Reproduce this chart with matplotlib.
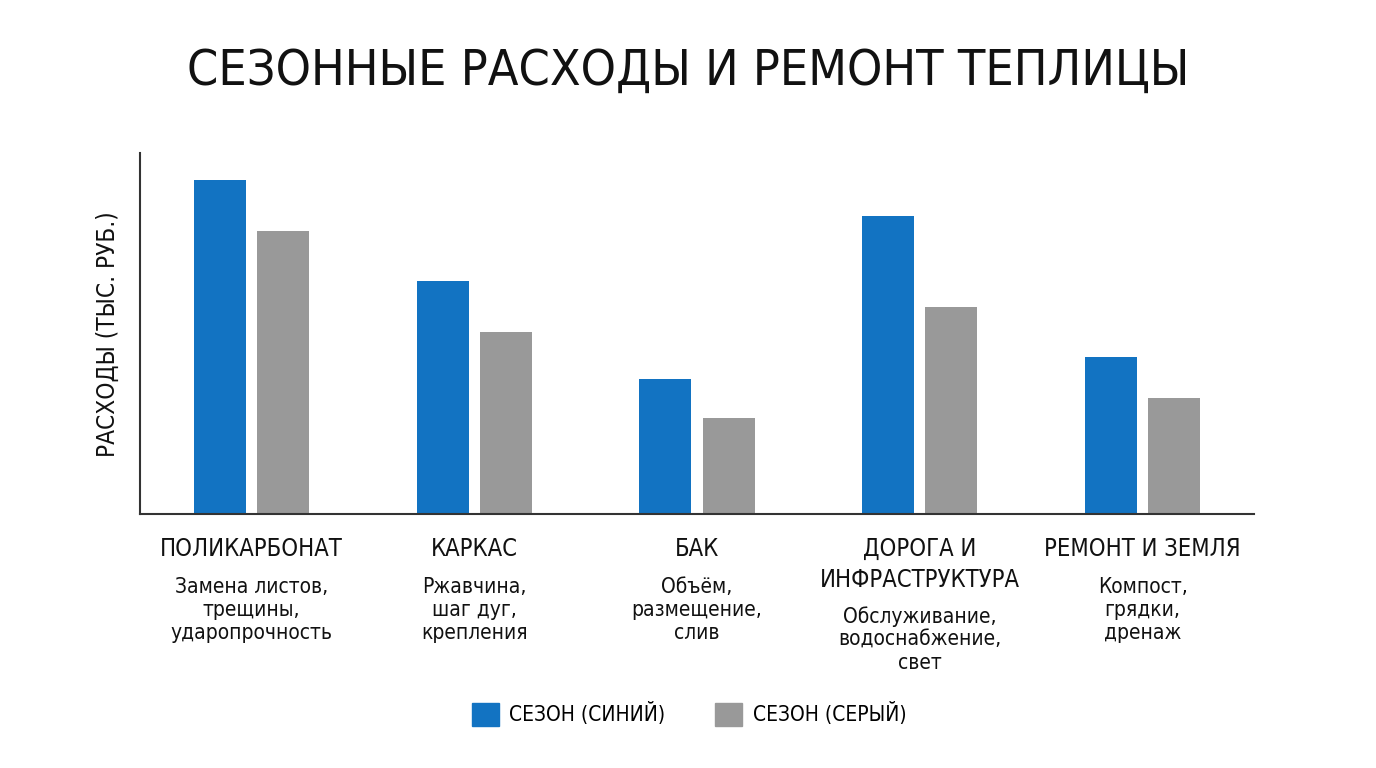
import matplotlib
matplotlib.use("Agg")
import matplotlib.pyplot as plt
from matplotlib import font_manager
from matplotlib.patches import Patch
from matplotlib.transforms import blended_transform_factory
import numpy as np

# ── data ──────────────────────────────────────────────────────────────────────

categories = ["ПОЛИКАРБОНАТ", "КАРКАС", "БАК", "ДОРОГА И\nИНФРАСТРУКТУРА", "РЕМОНТ И ЗЕМЛЯ"]
details = [
    "Замена листов,\nтрещины,\nударопрочность",
    "Ржавчина,\nшаг дуг,\nкрепления",
    "Объём,\nразмещение,\nслив",
    "Обслуживание,\nводоснабжение,\nсвет",
    "Компост,\nгрядки,\nдренаж",
]
blue_vals = [37.0, 25.8, 15.0, 33.0, 17.4]
gray_vals = [31.4, 20.2, 10.6, 22.9, 12.9]
series_names = ["СЕЗОН (СИНИЙ)", "СЕЗОН (СЕРЫЙ)"]

BLUE = "#1273C2"
GRAY = "#999999"

# ── font: prefer a narrow face ────────────────────────────────────────────────

names = {f.name for f in font_manager.fontManager.ttflist}
dejavu_cond = any(f.name == "DejaVu Sans" and f.stretch == "condensed"
                  for f in font_manager.fontManager.ttflist)
if "Liberation Sans Narrow" in names:
    FONT = dict(family=["Liberation Sans Narrow", "DejaVu Sans"])
elif dejavu_cond:
    FONT = dict(family=["DejaVu Sans"], fontstretch="condensed")
else:
    FONT = dict(family=["Liberation Sans", "DejaVu Sans"])

W, H = 1376, 768
fig = plt.figure(figsize=(W / 100, H / 100), dpi=100)
ax = fig.add_axes([140 / W, 1 - 514 / H, (1254 - 140) / W, (514 - 153) / H])

x = np.arange(len(categories))
bw = 0.233
off = 0.142
ax.bar(x - off, blue_vals, width=bw, color=BLUE)
ax.bar(x + off, gray_vals, width=bw, color=GRAY)

ax.set_xlim(-0.5, len(categories) - 0.5)
ax.set_ylim(0, 40)
ax.set_xticks([])
ax.set_yticks([])
for side in ("top", "right"):
    ax.spines[side].set_visible(False)
for side in ("left", "bottom"):
    ax.spines[side].set_color("#333333")
    ax.spines[side].set_linewidth(1.5)

# ── texts ─────────────────────────────────────────────────────────────────────

fig.text(688 / W, 1 - 71 / H, "СЕЗОННЫЕ РАСХОДЫ И РЕМОНТ ТЕПЛИЦЫ",
         ha="center", va="center", fontsize=36, color="#111111", **FONT)

fig.text(108 / W, 1 - 334 / H, "РАСХОДЫ (ТЫС. РУБ.)", rotation=90,
         ha="center", va="center", fontsize=17.5, color="#111111", **FONT)

tr = blended_transform_factory(ax.transData, fig.transFigure)
for i, (cat, det) in enumerate(zip(categories, details)):
    ax.text(i, 1 - 537 / H, cat, transform=tr, ha="center", va="top",
            fontsize=17, linespacing=1.35, color="#111111", **FONT)
    n = cat.count("\n")
    ax.text(i, 1 - (577 + 29 * n) / H, det, transform=tr, ha="center", va="top",
            fontsize=15, linespacing=1.2, color="#111111", **FONT)

prop = dict(size=15)
if "fontstretch" in FONT:
    prop["stretch"] = FONT["fontstretch"]
prop["family"] = FONT["family"]
handles = [Patch(color=BLUE), Patch(color=GRAY)]
fig.legend(handles, series_names, loc="center", bbox_to_anchor=(689 / W, 1 - 714 / H),
           ncol=2, frameon=False, handlelength=1.3, handleheight=1.3,
           handletextpad=0.5, columnspacing=2.4,
           prop=font_manager.FontProperties(**prop))

fig.savefig("out.png", dpi=100, facecolor="white")
